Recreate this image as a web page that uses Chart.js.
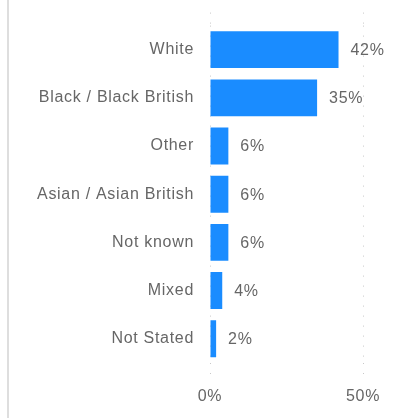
<!DOCTYPE html>
<html>
<head>
<meta charset="utf-8">
<script src="https://cdn.jsdelivr.net/npm/chart.js@4/dist/chart.umd.min.js"></script>
<style>
  html, body { margin: 0; padding: 0; background: #fff; }
  #wrap { position: relative; width: 401px; height: 418px; }
  #edge { position: absolute; left: 7px; top: 0; width: 2px; height: 418px; background: #dedede; }
  canvas { position: absolute; left: 0; top: 0; }
</style>
</head>
<body>
<div id="wrap">
  <div id="edge"></div>
  <canvas id="ethnicityChart" width="401" height="418"></canvas>
</div>
<script>
// ─── Data ──────────────────────────────────────────────────────
const categories = ['White', 'Black / Black British', 'Other', 'Asian / Asian British', 'Not known', 'Mixed', 'Not Stated'];
const shares     = [42, 35, 6, 6, 6, 4, 2];
const axisTicks  = [0, 50];

const TEXT_GREY = '#666666';
const BAR_BLUE  = '#1a8cff';
const GRID_GREY = '#c8c8c8';
const FONT      = { family: 'Arial, "Liberation Sans", sans-serif', size: 16 };

// Slightly spaced lettering for every label on the canvas
const letterSpacing = {
    id: 'letterSpacing',
    beforeDraw(chart) { chart.ctx.letterSpacing = '0.7px'; }
};

// Percent label just past the end of each bar
const valueLabels = {
    id: 'valueLabels',
    afterDatasetsDraw(chart) {
        const ctx  = chart.ctx;
        const meta = chart.getDatasetMeta(0);
        ctx.save();
        ctx.letterSpacing = '0.7px';
        ctx.font = `${FONT.size}px ${FONT.family}`;
        ctx.fillStyle = TEXT_GREY;
        ctx.textAlign = 'left';
        ctx.textBaseline = 'middle';
        meta.data.forEach((bar, i) => {
            ctx.fillText(shares[i] + '%', bar.x + 12, bar.y + 1);
        });
        ctx.restore();
    }
};

const dottedGrid = {
    color: GRID_GREY,
    lineWidth: 1,
    tickColor: GRID_GREY,
    tickBorderDash: [1, 9],
    drawTicks: true
};

new Chart(document.getElementById('ethnicityChart'), {
    type: 'bar',
    data: {
        labels: categories,
        datasets: [{
            data: shares,
            backgroundColor: BAR_BLUE,
            borderWidth: 0,
            barPercentage: 0.765,
            categoryPercentage: 1
        }]
    },
    plugins: [letterSpacing, valueLabels],
    options: {
        indexAxis: 'y',
        responsive: false,
        animation: false,
        layout: { padding: { top: 8, right: 38, bottom: 3, left: 0 } },
        plugins: { legend: { display: false }, tooltip: { enabled: false } },
        scales: {
            x: {
                position: 'bottom',
                min: axisTicks[0],
                max: axisTicks[axisTicks.length - 1],
                afterBuildTicks: s => { s.ticks = axisTicks.map(v => ({ value: v })); },
                grid: { ...dottedGrid, tickLength: 15 },
                border: { display: false, dash: [1, 9] },
                ticks: {
                    color: TEXT_GREY,
                    font: FONT,
                    padding: 9,
                    maxRotation: 0,
                    callback: v => v + '%'
                }
            },
            x2: {
                type: 'linear',
                position: 'top',
                min: axisTicks[0],
                max: axisTicks[axisTicks.length - 1],
                afterBuildTicks: s => { s.ticks = axisTicks.map(v => ({ value: v })); },
                grid: { ...dottedGrid, tickLength: 13, drawOnChartArea: false },
                border: { display: false },
                ticks: { display: false }
            },
            y: {
                grid: { display: false, drawTicks: false },
                border: { display: false },
                afterFit: s => { s.width = 210; },
                ticks: {
                    color: TEXT_GREY,
                    font: FONT,
                    padding: 16
                }
            }
        }
    }
});
</script>
</body>
</html>
